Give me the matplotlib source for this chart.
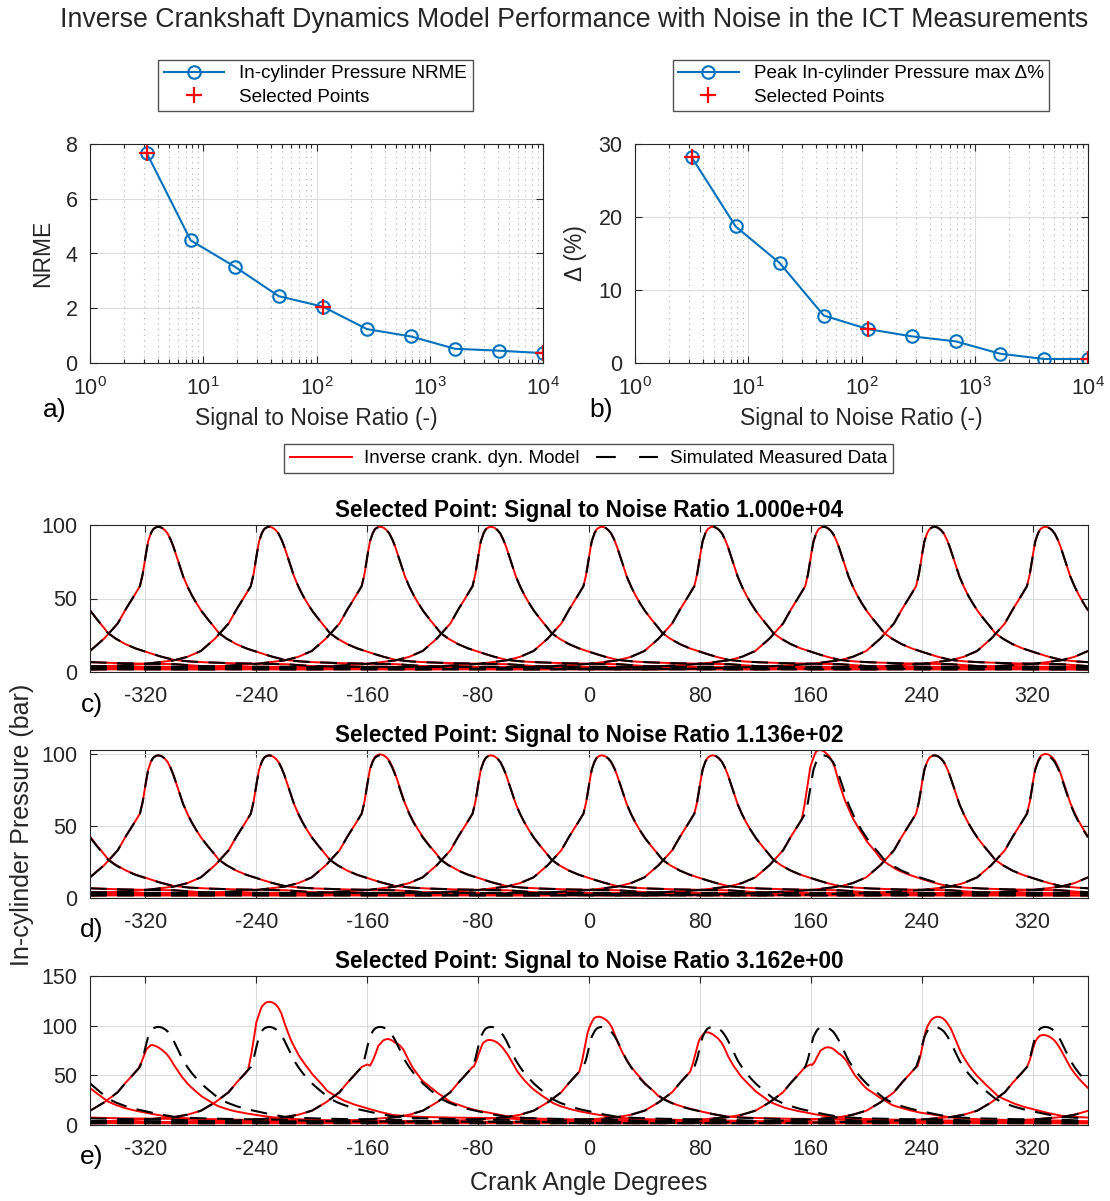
import numpy as np
import matplotlib
matplotlib.use("Agg")
import matplotlib.pyplot as plt
from matplotlib.lines import Line2D

plt.rcParams['font.family'] = ['Liberation Sans', 'DejaVu Sans']
plt.rcParams['mathtext.fontset'] = 'custom'
plt.rcParams['mathtext.rm'] = 'Liberation Sans'
plt.rcParams['mathtext.it'] = 'Liberation Sans:italic'
plt.rcParams['axes.unicode_minus'] = False

# ---------------- data: panels a/b ----------------
snr = [3.162, 7.743, 18.96, 46.42, 113.6, 278.3, 681.3, 1668, 4084, 10000]
nrme = [7.68, 4.48, 3.52, 2.44, 2.06, 1.24, 0.97, 0.52, 0.45, 0.36]
delta_pct = [28.2, 18.7, 13.7, 6.5, 4.65, 3.65, 2.96, 1.28, 0.55, 0.55]
selected_idx = [0, 4, 9]

# ---------------- data: cylinder pressure ----------------
# compression / motored branch, crank angle relative to TDC (deg) -> bar
comp_t = [-360, -340, -300, -200, -180, -160, -140, -120, -100, -80, -60, -50,
          -40, -30, -20, -15, -10, -4, 0]
comp_p = [3.4, 2.0, 1.8, 1.8, 2.0, 2.3, 2.8, 3.4, 4.3, 5.5, 7.8, 10.2,
          14.3, 22.5, 33.0, 41.5, 49.0, 58.4, 61.0]
# fired branch after start of combustion, relative to TDC (deg) -> bar
fire_t = [-4, -2, 0, 2, 4, 5, 6, 7.5, 9, 10.5, 12, 14, 16, 18, 20, 22, 24, 27,
          30, 33, 36, 40, 44, 48, 53, 58, 65, 72, 80, 90, 100, 110, 120, 140,
          160, 180, 200, 220, 360]
fire_p = [58.4, 66.5, 78.5, 89.0, 94.5, 96.3, 97.5, 98.4, 98.8, 98.6, 98.0,
          96.5, 94.2, 90.5, 85.8, 80.0, 74.0, 65.5, 58.8, 53.0, 48.0, 42.0,
          37.0, 32.5, 26.5, 23.0, 19.2, 16.3, 13.8, 10.8, 8.3, 7.3, 6.7, 6.0,
          5.7, 5.4, 4.0, 3.6, 3.4]
cyl_tdc = [-320, -240, -160, -80, 0, 80, 160, 240, 320]

# model (inverse crank. dyn.) peak pressure and combustion shift per cylinder
model_peak_c = [98.8, 98.8, 98.8, 98.8, 98.8, 98.8, 98.8, 98.8, 98.8]
model_shift_c = [0, 0, 0, 0, 0, 0, 0, 0, 0]
model_peak_d = [98.8, 98.8, 99.5, 98.8, 98.8, 98.8, 102.5, 98.8, 99.8]
model_shift_d = [0, 0, 0, 0, 0, 0, -2.5, 0, 0]
model_peak_e = [80.5, 124.0, 86.6, 85.6, 109.0, 93.4, 78.2, 109.0, 90.6]
model_shift_e = [-1, -2, 6, 1, -3, -3, 5, 1, 0]

panel_titles = ["Selected Point: Signal to Noise Ratio 1.000e+04",
                "Selected Point: Signal to Noise Ratio 1.136e+02",
                "Selected Point: Signal to Noise Ratio 3.162e+00"]
crank_ticks = [-320, -240, -160, -80, 0, 80, 160, 240, 320]

# ---------------- helpers ----------------
prof_t = np.array([t for t in comp_t if t < -4] + fire_t, dtype=float)
prof_p = np.array([p for t, p in zip(comp_t, comp_p) if t < -4] + fire_p, dtype=float)


def wrap(t):
    return ((np.asarray(t) + 360.0) % 720.0) - 360.0


def measured(t):
    return np.interp(wrap(t), prof_t, prof_p)


def motored(t):
    return np.interp(-np.abs(wrap(t)), comp_t, comp_p)


def model(t, peak, shift):
    comb = measured(t - shift) - motored(t - shift)
    mot = motored(t)
    lo, hi = 0.0, 5.0
    for _ in range(60):
        mid = 0.5 * (lo + hi)
        if np.max(mot + mid * comb) > peak:
            hi = mid
        else:
            lo = mid
    return mot + lo * comb


theta = np.arange(-360, 360.01, 0.25)

BLUE = '#0072BD'
DARK = '#262626'
DASH = (0, (8, 5))

fig = plt.figure(figsize=(11.1, 12.01), dpi=100)
W, H = 1110.0, 1201.0


def add_ax(x0, x1, y0, y1):
    return fig.add_axes([x0 / W, 1 - y1 / H, (x1 - x0) / W, (y1 - y0) / H])


def style(ax, xpad=8, ypad=8):
    for s in ax.spines.values():
        s.set_color(DARK)
        s.set_linewidth(0.8)
    ax.tick_params(which='both', direction='in', top=True, right=True,
                   colors=DARK, labelsize=15.5, length=5, width=0.8)
    ax.tick_params(axis='x', pad=xpad)
    ax.tick_params(axis='y', pad=ypad)
    ax.tick_params(which='minor', length=3)
    ax.set_axisbelow(True)


fig.text(60 / W, 1 - 20 / H,
         "Inverse Crankshaft Dynamics Model Performance with Noise in the ICT Measurements",
         ha='left', va='center', fontsize=19.3, color=DARK)

# ---- panels a and b ----
specs = [
    (90, 543, nrme, [0, 8], [0, 2, 4, 6, 8], 'NRME', 'In-cylinder Pressure NRME', 315.5, 'a)', 55),
    (635, 1088, delta_pct, [0, 30], [0, 10, 20, 30], '\u0394 (%)', 'Peak In-cylinder Pressure max \u0394%', 861, 'b)', 601),
]
for x0, x1, yv, ylim, yt, ylab, leglab, legx, letter, letx in specs:
    ax = add_ax(x0, x1, 144, 363)
    style(ax, xpad=10, ypad=9)
    ax.set_xscale('log')
    ax.set_xlim(1, 1e4)
    ax.set_ylim(*ylim)
    ax.set_yticks(yt)
    ax.grid(True, which='major', color='#dcdcdc', linewidth=0.8)
    ax.grid(True, which='minor', axis='x', color='#b0b0b0', linestyle=(0, (1, 4)), linewidth=0.8)
    l1, = ax.plot(snr, yv, '-o', color=BLUE, lw=1.5, ms=9, mfc='none', mew=1.5)
    sx = [snr[i] for i in selected_idx]
    sy = [yv[i] for i in selected_idx]
    l2, = ax.plot(sx, sy, '+', color='red', ms=11, mew=1.6, linestyle='none')
    ax.set_ylabel(ylab, fontsize=16.5, color=DARK, labelpad=8)
    ax.set_xlabel('Signal to Noise Ratio (-)', fontsize=16.5, color=DARK, labelpad=5)
    ax.legend([l1, l2], [leglab, 'Selected Points'], loc='center',
              bbox_to_anchor=(legx / W, 1 - 85.5 / H), bbox_transform=fig.transFigure,
              fontsize=13.6, frameon=True, fancybox=False, edgecolor=DARK,
              handlelength=3.2, borderpad=0.3, labelspacing=0.32)
    fig.text(letx / W, 1 - 410 / H, letter, fontsize=19, ha='center', va='center', color='black')

# ---- panels c, d, e ----
rows = [
    (525, 672, [0, 100], [0, 50, 100], model_peak_c, model_shift_c, 'c)', 705),
    (750, 898, [0, 102.5], [0, 50, 100], model_peak_d, model_shift_d, 'd)', 930),
    (976, 1125, [0, 150], [0, 50, 100, 150], model_peak_e, model_shift_e, 'e)', 1157),
]
axes_cde = []
for (y0, y1, ylim, yt, peaks, shifts, letter, lety), title in zip(rows, panel_titles):
    ax = add_ax(90, 1088, y0, y1)
    style(ax, xpad=10, ypad=9)
    ax.grid(True, color='#dcdcdc', linewidth=0.8)
    for tdc, pk, sh in zip(cyl_tdc, peaks, shifts):
        t = theta - tdc
        ax.plot(theta, model(t, pk, sh), color='red', lw=1.4)
    for tdc in cyl_tdc:
        t = theta - tdc
        ax.plot(theta, measured(t), color='black', lw=1.5, linestyle=DASH)
    ax.set_xlim(-360, 360)
    ax.set_ylim(*ylim)
    ax.set_yticks(yt)
    ax.set_xticks(crank_ticks)
    ax.set_title(title, fontsize=16.3, fontweight='bold', color='black', pad=6)
    fig.text(92 / W, 1 - lety / H, letter, fontsize=19, ha='center', va='center', color='black')
    axes_cde.append(ax)

axes_cde[-1].set_xlabel('Crank Angle Degrees', fontsize=18, color=DARK, labelpad=8)
fig.text(22 / W, 1 - 825 / H, 'In-cylinder Pressure (bar)', rotation=90,
         fontsize=18, ha='center', va='center', color=DARK)

h1 = Line2D([], [], color='red', lw=1.4)
h2 = Line2D([], [], color='black', lw=1.5, linestyle=(0, (9.5, 11.2)))
axes_cde[0].legend([h1, h2], ['Inverse crank. dyn. Model', 'Simulated Measured Data'],
                   loc='center', ncol=2, bbox_to_anchor=(588.5 / W, 1 - 458.5 / H),
                   bbox_transform=fig.transFigure, fontsize=13.6, frameon=True,
                   fancybox=False, edgecolor=DARK, handlelength=3.3,
                   borderpad=0.3, columnspacing=0.9, handletextpad=0.6)

fig.savefig('out.png', dpi=100)
